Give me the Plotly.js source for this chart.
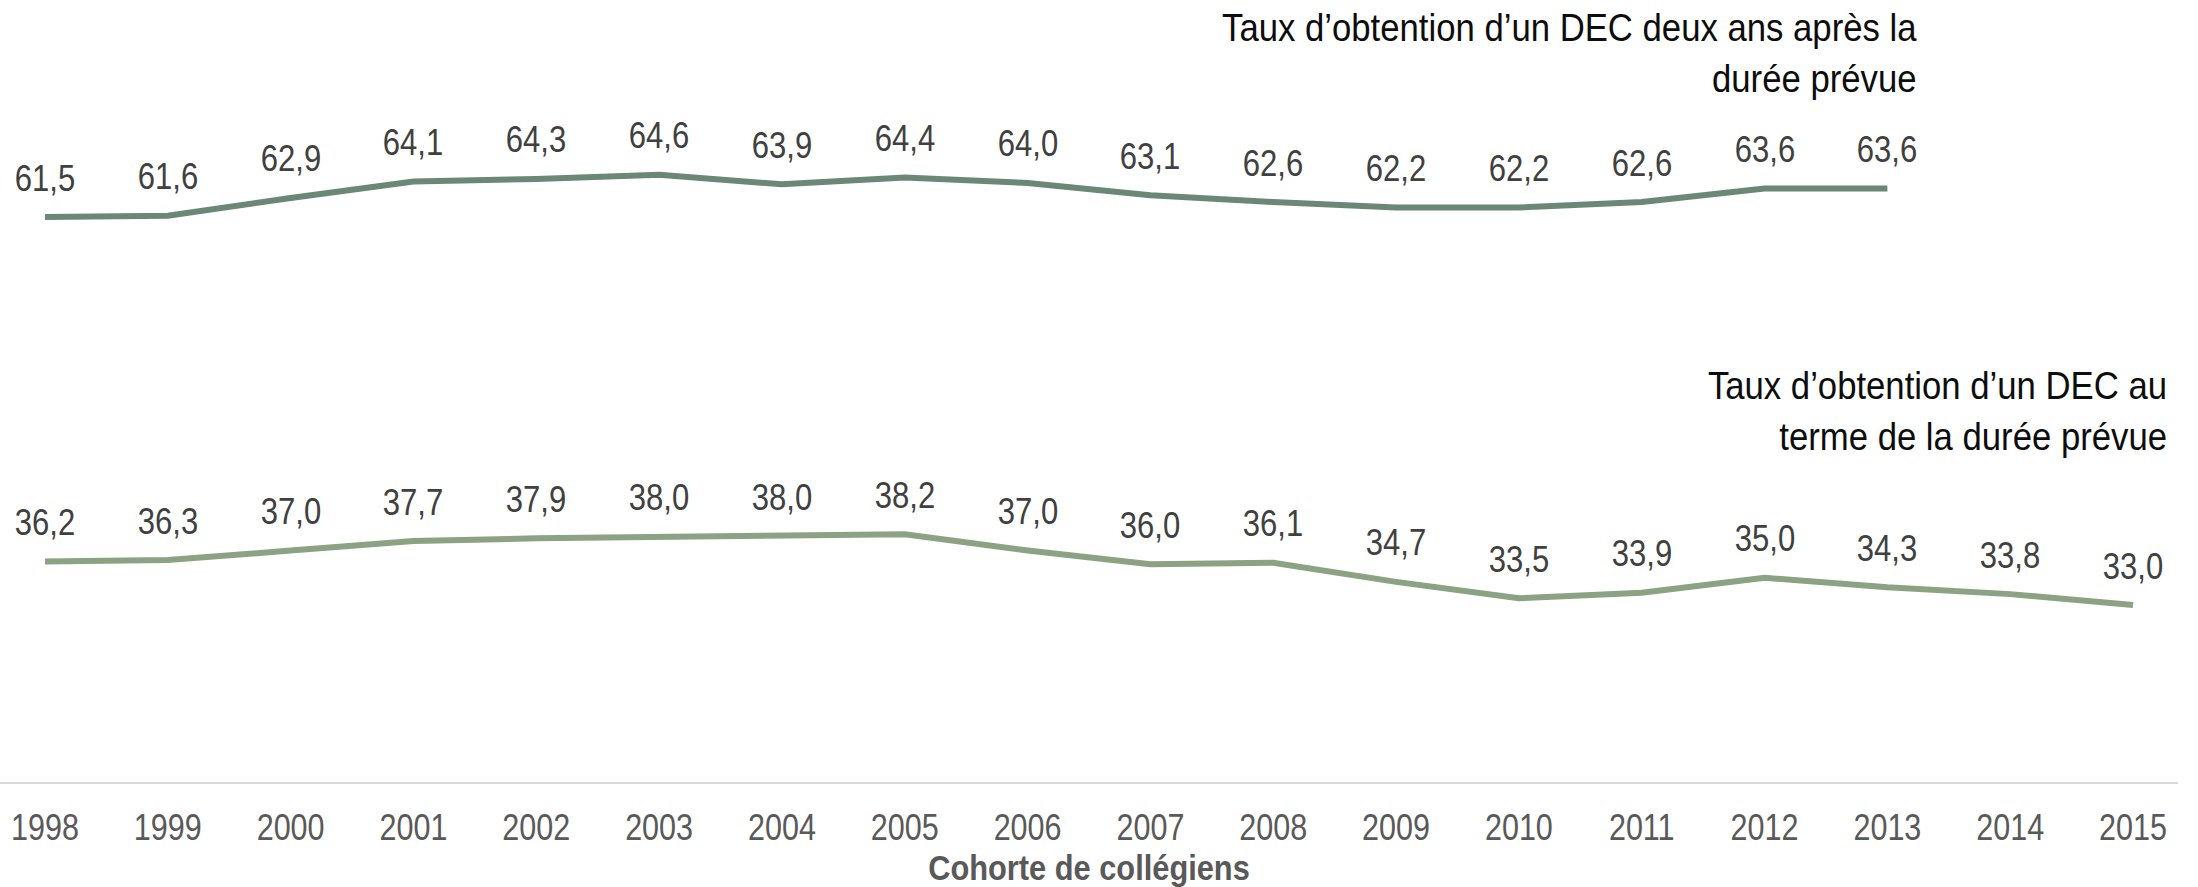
<!DOCTYPE html>
<html>
<head>
<meta charset="utf-8">
<script src="https://cdn.plot.ly/plotly-3.0.1.min.js"></script>
<style>
  html, body { margin: 0; padding: 0; background: #ffffff; }
  #chart { width: 2198px; height: 887px; }
</style>
</head>
<body>
<div id="chart"></div>
<script>
// ---- Data ----
var cohorts = ["1998","1999","2000","2001","2002","2003","2004","2005","2006",
               "2007","2008","2009","2010","2011","2012","2013","2014","2015"];
var deuxAnsApres = [61.5, 61.6, 62.9, 64.1, 64.3, 64.6, 63.9, 64.4, 64.0,
                    63.1, 62.6, 62.2, 62.2, 62.6, 63.6, 63.6];
var termeDuree = [36.2, 36.3, 37.0, 37.7, 37.9, 38.0, 38.0, 38.2, 37.0,
                  36.0, 36.1, 34.7, 33.5, 33.9, 35.0, 34.3, 33.8, 33.0];
var seriesNames = ["Taux d\u2019obtention d\u2019un DEC deux ans après la<br>durée prévue",
                   "Taux d\u2019obtention d\u2019un DEC au<br>terme de la durée prévue"];
var xTitle = "Cohorte de collégiens";

var FONT = '"Liberation Sans Narrow", "Arial Narrow", "Liberation Sans", Arial, sans-serif';

function fmt(v) { return v.toFixed(1).replace('.', ','); }

var traces = [
  {
    type: 'scatter', mode: 'lines',
    x: cohorts.slice(0, deuxAnsApres.length), y: deuxAnsApres,
    line: { color: '#6b8876', width: 6 },
    hoverinfo: 'x+y', showlegend: false
  },
  {
    type: 'scatter', mode: 'lines',
    x: cohorts.slice(0, termeDuree.length), y: termeDuree,
    line: { color: '#8ba283', width: 6 },
    hoverinfo: 'x+y', showlegend: false
  }
];

var annotations = [];
function addLabels(vals) {
  vals.forEach(function (v, i) {
    annotations.push({
      x: i, y: v, xref: 'x', yref: 'y',
      text: fmt(v), showarrow: false,
      xanchor: 'center', yanchor: 'middle', yshift: 39,
      font: { family: FONT, size: 37, color: '#404040' }
    });
  });
}
addLabels(deuxAnsApres);
addLabels(termeDuree);
var nDataLabels = annotations.length;

annotations.push({
  xref: 'paper', yref: 'paper', x: 0.8809, y: 0.932,
  xanchor: 'right', yanchor: 'middle', align: 'right',
  text: seriesNames[0], showarrow: false,
  font: { family: FONT, size: 39, color: '#0d0d0d' }
});
annotations.push({
  xref: 'paper', yref: 'paper', x: 0.9957, y: 0.4749,
  xanchor: 'right', yanchor: 'middle', align: 'right',
  text: seriesNames[1], showarrow: false,
  font: { family: FONT, size: 39, color: '#0d0d0d' }
});

var layout = {
  width: 2198, height: 887,
  margin: { l: 0, r: 20, t: 0, b: 105.3, pad: 0 },
  paper_bgcolor: '#ffffff', plot_bgcolor: '#ffffff',
  showlegend: false,
  xaxis: {
    type: 'category',
    range: [-0.366, 17.366],
    showgrid: false, zeroline: false,
    showline: true, linecolor: '#d9d9d9', linewidth: 2,
    ticks: '', ticklabelstandoff: 12,
    tickfont: { family: FONT, size: 37, color: '#595959' },
    title: { text: xTitle, standoff: 0,
             font: { family: FONT, size: 35, color: '#595959', weight: 'bold' } },
    automargin: false, fixedrange: true
  },
  yaxis: {
    range: [20, 77.44],
    showgrid: false, zeroline: false, showline: false,
    showticklabels: false, ticks: '',
    automargin: false, fixedrange: true
  },
  annotations: annotations
};

// The reference uses a narrow typeface; condense the installed sans horizontally
// around each text's own anchor point (text remains real SVG text).
function condense(el, s) {
  if (!el || el.getAttribute('data-condensed')) return;
  var x = parseFloat(el.getAttribute('x')) || 0;
  var t = el.getAttribute('transform') || '';
  el.setAttribute('transform', (t + ' translate(' + x + ',0) scale(' + s + ',1) translate(' + (-x) + ',0)').trim());
  el.setAttribute('data-condensed', '1');
}

Plotly.newPlot('chart', traces, layout, { displayModeBar: false, staticPlot: true }).then(function (gd) {
  gd.querySelectorAll('.xtick text, g.xtick > text').forEach(function (el) { condense(el, 0.825); });
  gd.querySelectorAll('.xtitle').forEach(function (el) { condense(el, 0.88); });
  gd.querySelectorAll('g.annotation').forEach(function (g) {
    var idx = parseInt(g.getAttribute('data-index'), 10);
    var txt = g.querySelector('.annotation-text');
    if (!txt) return;
    condense(txt, idx < nDataLabels ? 0.84 : 0.89);
  });
});
</script>
</body>
</html>
